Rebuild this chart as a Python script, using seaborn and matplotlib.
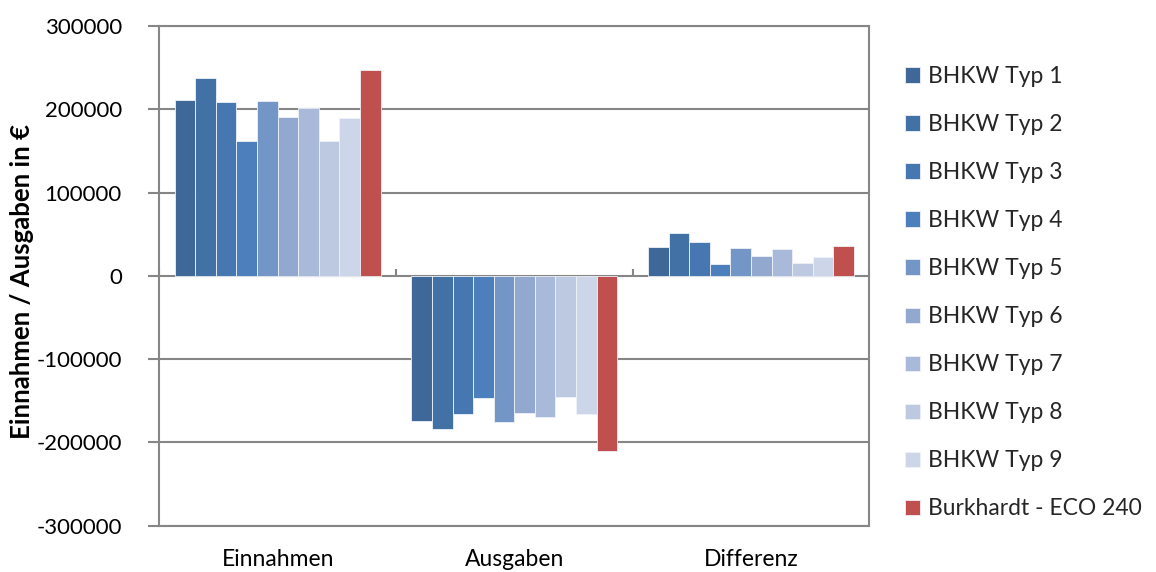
import matplotlib
matplotlib.use("Agg")
import matplotlib.pyplot as plt
import seaborn as sns
import pandas as pd

categories = ["Einnahmen", "Ausgaben", "Differenz"]
series = ["BHKW Typ 1", "BHKW Typ 2", "BHKW Typ 3", "BHKW Typ 4", "BHKW Typ 5",
          "BHKW Typ 6", "BHKW Typ 7", "BHKW Typ 8", "BHKW Typ 9", "Burkhardt - ECO 240"]
einnahmen = [211000, 237000, 209000, 162000, 210000, 191000, 202000, 162000, 190000, 247000]
ausgaben = [-174000, -184000, -166000, -147000, -175000, -165000, -169000, -145000, -166000, -210000]
differenz = [35000, 52000, 41000, 14000, 34000, 24000, 32000, 15000, 23000, 36000]
colors = ["#3f6898", "#4271a6", "#4777b0", "#4c7fbb", "#7496c6",
          "#93a8cf", "#a9b9d9", "#bdc9e1", "#ccd6e8", "#c0504d"]
yticks = [-300000, -200000, -100000, 0, 100000, 200000, 300000]

rows = []
for cat, vals in zip(categories, [einnahmen, ausgaben, differenz]):
    for s, v in zip(series, vals):
        rows.append({"Kategorie": cat, "Serie": s, "Wert": v})
df = pd.DataFrame(rows)

sns.set_theme(style="white")
plt.rcParams["font.family"] = ["Lato", "DejaVu Sans"]

fig = plt.figure(figsize=(11.56, 5.72), dpi=100)
ax = fig.add_axes([159.3 / 1156, 1 - 525.7 / 572, (869.3 - 159.3) / 1156, (525.7 - 26) / 572])

sns.barplot(data=df, x="Kategorie", y="Wert", hue="Serie", order=categories,
            hue_order=series, palette=colors, width=0.87, ax=ax,
            edgecolor="#eef2f8", linewidth=0.6, saturation=1, legend=True)

grid_c = "#868686"
ax.set_ylim(-300000, 300000)
ax.set_xlim(-0.5, 2.5)
ax.set_yticks(yticks)
ax.set_yticklabels([str(t) for t in yticks])
ax.yaxis.grid(True, color=grid_c, linewidth=1.5)
ax.set_axisbelow(True)
for sp in ax.spines.values():
    sp.set_visible(True)
    sp.set_color(grid_c)
    sp.set_linewidth(1.5)
ax.tick_params(axis="y", left=True, length=8, width=1.5, color=grid_c,
               labelsize=16, labelcolor="black", pad=19)
ax.tick_params(axis="x", bottom=False, length=0, labelsize=16.5,
               labelcolor="black", pad=17)
ax.set_xlabel("")
ax.set_ylabel("Einnahmen / Ausgaben in €", fontsize=18.5, fontweight="bold",
              color="black")
ax.yaxis.set_label_coords(-0.1765, 0.489)

# zero axis line with category separator ticks
zero_ax = ax.secondary_xaxis(0.5)
zero_ax.set_xticks([-0.5, 0.5, 1.5, 2.5])
zero_ax.set_xticklabels([])
zero_ax.tick_params(axis="x", direction="out", length=5, width=1.5, color=grid_c)
zero_ax.spines["bottom"].set_color(grid_c)
zero_ax.spines["bottom"].set_linewidth(1.8)

ax.get_legend().remove()
handles, labels = ax.get_legend_handles_labels()
fig.legend(handles, labels, loc="upper left", bbox_to_anchor=(905 / 1156, 1 - 66 / 572),
           frameon=False, fontsize=16.5, handlelength=0.65, handleheight=0.65,
           handletextpad=0.35, labelspacing=1.18, borderaxespad=0, borderpad=0)

fig.savefig("out.png", dpi=100)
